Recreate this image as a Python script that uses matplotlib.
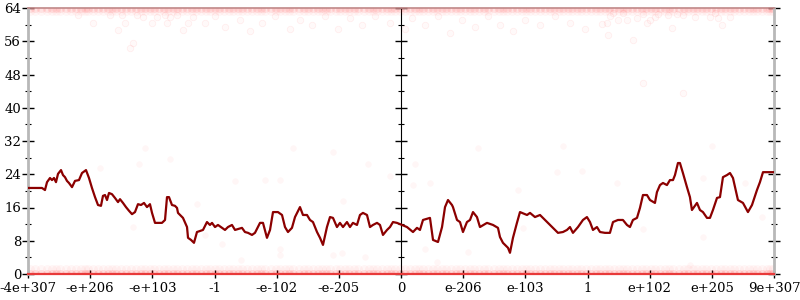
import matplotlib
matplotlib.use("Agg")
import matplotlib.pyplot as plt
from matplotlib.ticker import MultipleLocator, NullFormatter

# ---- data ----
tick_labels = ["-4e+307", "-e+206", "-e+103", "-1", "-e-102", "-e-205", "0",
               "e-206", "e-103", "1", "e+102", "e+205", "9e+307"]
y_ticks = [0, 8, 16, 24, 32, 40, 48, 56, 64]

line_x = [0.000, 0.225, 0.273, 0.306, 0.354, 0.386, 0.418, 0.450, 0.483, 0.531,
          0.563, 0.595, 0.627, 0.659, 0.708, 0.756, 0.820, 0.869, 0.933, 0.981,
          1.029, 1.078, 1.126, 1.174, 1.206, 1.239, 1.271, 1.303, 1.351, 1.399,
          1.448, 1.480, 1.528, 1.576, 1.625, 1.673, 1.721, 1.769, 1.818, 1.866,
          1.914, 1.962, 1.995, 2.043, 2.155, 2.204, 2.236, 2.268, 2.316, 2.364,
          2.397, 2.413, 2.493, 2.558, 2.574, 2.622, 2.670, 2.718, 2.815, 2.879,
          2.927, 2.960, 3.008, 3.056, 3.169, 3.217, 3.281, 3.330, 3.442, 3.490,
          3.539, 3.603, 3.651, 3.732, 3.780, 3.844, 3.893, 3.941, 4.021, 4.086,
          4.134, 4.182, 4.246, 4.295, 4.375, 4.423, 4.488, 4.536, 4.584, 4.649,
          4.697, 4.745, 4.809, 4.858, 4.906, 4.970, 5.018, 5.067, 5.131, 5.179,
          5.227, 5.292, 5.340, 5.388, 5.453, 5.501, 5.549, 5.614, 5.662, 5.710,
          5.775, 5.823, 5.871, 5.935, 6.016, 6.096, 6.193, 6.257, 6.305, 6.354,
          6.466, 6.515, 6.595, 6.660, 6.708, 6.756, 6.820, 6.836, 6.901, 6.949,
          6.997, 7.061, 7.110, 7.158, 7.222, 7.270, 7.383, 7.480, 7.560, 7.592,
          7.640, 7.721, 7.753, 7.801, 7.865, 7.914, 8.027, 8.075, 8.155, 8.236,
          8.316, 8.396, 8.445, 8.525, 8.605, 8.670, 8.718, 8.766, 8.847, 8.927,
          8.991, 9.040, 9.088, 9.152, 9.201, 9.281, 9.361, 9.410, 9.490, 9.570,
          9.635, 9.683, 9.731, 9.796, 9.844, 9.892, 9.957, 10.005, 10.085, 10.117,
          10.166, 10.214, 10.278, 10.326, 10.375, 10.407, 10.455, 10.487, 10.535, 10.600,
          10.648, 10.680, 10.761, 10.809, 10.857, 10.922, 10.970, 11.018, 11.083, 11.131,
          11.179, 11.243, 11.292, 11.340, 11.420, 11.501, 11.581, 11.646, 11.726, 11.774,
          11.823, 12.000]
line_y = [20.7, 20.7, 20.2, 22.1, 23.1, 22.6, 23.1, 22.1, 24.1, 25.0,
          23.8, 23.3, 22.4, 21.9, 20.9, 22.4, 22.6, 24.3, 25.0, 23.1,
          20.7, 18.5, 16.6, 16.4, 18.8, 19.0, 17.8, 19.5, 19.2, 18.3,
          17.3, 18.0, 17.1, 16.1, 15.2, 14.4, 14.9, 16.8, 16.6, 17.1,
          16.1, 16.8, 14.7, 12.3, 12.3, 13.0, 18.5, 18.5, 16.6, 16.4,
          15.9, 14.7, 13.5, 11.3, 8.7, 8.2, 7.5, 10.1, 10.6, 12.5,
          11.8, 12.3, 11.3, 11.8, 10.6, 11.3, 11.8, 10.6, 11.1, 10.1,
          9.9, 9.4, 9.9, 12.3, 12.3, 8.7, 10.6, 14.9, 14.9, 14.2,
          11.3, 10.1, 11.1, 13.7, 16.1, 14.2, 14.2, 13.0, 12.5, 10.1,
          8.7, 7.0, 11.3, 13.7, 13.5, 11.3, 12.3, 11.3, 12.5, 11.3,
          12.3, 11.8, 14.2, 14.7, 14.2, 11.3, 11.8, 12.3, 11.8, 9.4,
          10.6, 11.3, 12.5, 12.3, 11.8, 11.3, 10.1, 11.1, 10.6, 13.0,
          13.5, 8.2, 7.7, 11.3, 16.1, 17.8, 16.6, 16.1, 13.0, 12.5,
          10.1, 12.5, 13.0, 14.9, 13.7, 11.3, 12.3, 11.8, 11.1, 8.9,
          7.5, 6.3, 5.1, 8.7, 12.3, 14.9, 14.2, 14.7, 13.7, 14.2,
          13.0, 11.8, 11.1, 9.9, 10.1, 10.6, 11.3, 9.9, 11.3, 13.0,
          13.7, 12.5, 10.6, 11.3, 10.1, 9.9, 9.9, 12.5, 13.0, 13.0,
          11.8, 11.3, 13.0, 13.5, 15.9, 19.0, 19.0, 17.8, 17.1, 19.7,
          21.4, 21.9, 21.4, 22.6, 22.6, 23.8, 26.7, 26.7, 24.3, 20.9,
          18.5, 15.4, 17.1, 15.4, 14.9, 13.5, 13.5, 15.4, 18.3, 18.5,
          23.3, 23.8, 24.3, 23.1, 17.8, 17.1, 14.9, 16.6, 20.2, 22.1,
          24.5, 24.5]

# dense bands of sample points (error 0 and error 64)
band_a = [0.03, 0.21, 0.38, 0.52, 0.69, 0.85, 0.97, 1.12, 1.29, 1.41, 1.58, 1.74,
          1.88, 2.03, 2.19, 2.33, 2.47, 2.64, 2.79, 2.92, 3.08, 3.24, 3.37, 3.53,
          3.68, 3.82, 3.99, 4.13, 4.27, 4.44, 4.58, 4.73, 4.86, 5.02, 5.17, 5.31,
          5.48, 5.62, 5.77, 5.91, 6.06, 6.22, 6.35, 6.51, 6.66, 6.80, 6.95, 7.11,
          7.26, 7.40, 7.57, 7.71, 7.86, 8.01, 8.15, 8.32, 8.46, 8.61, 8.75, 8.90,
          9.06, 9.20, 9.35, 9.51, 9.64, 9.80, 9.94, 10.09, 10.25, 10.38, 10.55,
          10.69, 10.84, 10.98, 11.14, 11.29, 11.43, 11.60, 11.73, 11.88, 11.98]
band_b = [0.11, 0.30, 0.45, 0.61, 0.77, 0.91, 1.05, 1.20, 1.35, 1.50, 1.66, 1.81,
          1.96, 2.11, 2.26, 2.40, 2.56, 2.71, 2.86, 3.00, 3.16, 3.30, 3.45, 3.61,
          3.75, 3.91, 4.06, 4.20, 4.36, 4.51, 4.66, 4.80, 4.95, 5.10, 5.24, 5.40,
          5.55, 5.70, 5.84, 5.99, 6.14, 6.29, 6.43, 6.58, 6.73, 6.88, 7.03, 7.18,
          7.33, 7.49, 7.64, 7.79, 7.94, 8.08, 8.24, 8.39, 8.54, 8.68, 8.83, 8.98,
          9.13, 9.28, 9.43, 9.57, 9.72, 9.87, 10.02, 10.17, 10.31, 10.47, 10.62,
          10.76, 10.91, 11.06, 11.21, 11.36, 11.51, 11.66, 11.81, 11.93]

# scattered sample points near the top
top_x = [0.80, 1.05, 1.32, 1.45, 1.51, 1.56, 1.64, 1.69, 1.75, 1.85, 1.99, 2.07,
         2.20, 2.24, 2.28, 2.40, 2.49, 2.57, 2.65, 2.85, 3.00, 3.17, 3.41, 3.57,
         3.76, 3.97, 4.21, 4.38, 4.57, 4.78, 4.99, 5.18, 5.37, 5.58, 5.82,
         6.06, 6.18, 6.39, 6.60, 6.79, 6.98, 7.19, 7.40, 7.59, 7.80, 7.99, 8.24,
         8.48, 8.72, 8.96, 9.23, 9.31, 9.33, 9.36, 9.41, 9.49, 9.57, 9.63, 9.73,
         9.80, 9.89, 9.96, 10.01, 10.09, 10.13, 10.29, 10.36, 10.44, 10.54, 10.73,
         10.97, 11.05, 11.10, 11.16, 11.29, 9.89, 10.54]
top_y = [62.3, 60.4, 62.3, 58.7, 62.3, 60.4, 54.4, 55.6, 62.3, 61.8, 60.4, 61.8,
         62.3, 60.4, 61.8, 62.3, 58.7, 60.4, 61.8, 60.5, 62.0, 59.5, 61.0, 58.5,
         60.5, 62.0, 59.0, 61.0, 60.0, 62.0, 59.0, 61.5, 60.0, 62.0, 60.5,
         59.0, 61.5, 60.0, 62.0, 58.0, 61.0, 59.5, 62.0, 60.0, 58.5, 61.0, 59.8,
         62.0, 60.5, 59.0, 60.2, 60.4, 57.5, 62.0, 62.8, 61.1, 62.8, 61.1, 56.3,
         61.5, 62.6, 60.4, 61.1, 61.8, 62.6, 62.3, 59.2, 62.6, 62.3, 61.8,
         61.8, 62.8, 61.5, 59.9, 61.8, 46.0, 43.5]

# scattered sample points elsewhere
mid_x = [1.88, 1.16, 1.79, 2.28, 2.72, 1.69, 3.33, 3.81, 4.05, 4.26, 4.91, 5.07,
         5.47, 5.82, 2.85, 4.05, 7.24, 8.61, 6.22, 6.19, 6.47, 7.88, 8.51, 8.91,
         9.47, 10.86, 11.53, 11.00, 9.89, 10.86, 6.39, 7.08, 11.81, 7.96,
         3.43, 3.12, 4.05, 4.91, 5.05, 5.42, 6.58, 10.65]
mid_y = [30.3, 25.5, 26.5, 27.7, 16.8, 11.3, 22.4, 22.6, 22.6, 30.3, 29.4, 17.6,
         26.5, 23.6, 9.4, 6.0, 30.3, 30.8, 26.5, 21.4, 21.9, 20.2, 24.5, 24.8,
         21.9, 23.1, 21.9, 30.8, 10.8, 8.9, 6.0, 5.3, 13.7, 11.1,
         3.4, 7.2, 4.6, 4.6, 5.0, 4.1, 2.9, 2.2]

# ---- figure ----
fig = plt.figure(figsize=(8, 3), dpi=100)
ax = fig.add_axes([28 / 800, 26 / 300, 746 / 800, 266 / 300])

red = "#ff0000"
ms = 22
bs = 42
# bands
ax.scatter(band_a, [0] * len(band_a), s=bs, color=red, alpha=0.10, lw=0, zorder=2)
ax.scatter(band_b, [0] * len(band_b), s=bs, color=red, alpha=0.10, lw=0, zorder=2)
ax.scatter(band_a, [1.1] * len(band_a), s=bs, color=red, alpha=0.035, lw=0, zorder=2)
ax.scatter(band_b, [1.2] * len(band_b), s=bs, color=red, alpha=0.035, lw=0, zorder=2)
ax.scatter(band_a, [64] * len(band_a), s=bs, color=red, alpha=0.08, lw=0, zorder=2)
ax.scatter(band_b, [64] * len(band_b), s=bs, color=red, alpha=0.08, lw=0, zorder=2)
ax.scatter(band_a, [63.2] * len(band_a), s=bs, color=red, alpha=0.035, lw=0, zorder=2)
ax.scatter(band_b, [63.3] * len(band_b), s=bs, color=red, alpha=0.035, lw=0, zorder=2)
# scattered
ax.scatter(top_x, top_y, s=ms, facecolor=(1, 0, 0, 0.025), edgecolor=(1, 0, 0, 0.06), lw=0.6, zorder=2)
ax.scatter(mid_x, mid_y, s=ms, color=red, alpha=0.035, lw=0, zorder=2)

# main line
ax.plot(line_x, line_y, color="#8b0000", lw=1.6, zorder=4, solid_joinstyle="round")

ax.set_xlim(0, 12)
ax.set_ylim(0, 64)

ax.set_xticks(range(len(tick_labels)))
ax.set_xticklabels(tick_labels)
ax.set_yticks(y_ticks)
ax.yaxis.set_minor_locator(MultipleLocator(4))

axis_gray = "#b8b8b8"
for s in ["left", "right"]:
    ax.spines[s].set_color(axis_gray)
    ax.spines[s].set_linewidth(2)
ax.spines["bottom"].set_color("#e83a3a")
ax.spines["bottom"].set_linewidth(1.6)
ax.spines["top"].set_color("#c08888")
ax.spines["top"].set_linewidth(1.2)

ax.tick_params(axis="y", which="major", direction="inout", length=8, width=1,
               color="black", right=True, labelright=False, pad=1)
ax.tick_params(axis="y", which="minor", direction="inout", length=4.5, width=0.8,
               color="black", right=True)
ax.tick_params(axis="x", which="major", direction="inout", length=6, width=1,
               color="black", pad=3)
for lab in ax.get_xticklabels() + ax.get_yticklabels():
    lab.set_fontfamily("DejaVu Serif")
    lab.set_fontsize(9.5)

# middle axis
mid = ax.secondary_yaxis(0.5)
mid.spines["left"].set_color(axis_gray)
mid.spines["left"].set_linewidth(2)
mid.set_yticks(y_ticks)
mid.yaxis.set_major_formatter(NullFormatter())
mid.yaxis.set_minor_locator(MultipleLocator(4))
mid.tick_params(which="major", direction="inout", length=8, width=1, color="black")
mid.tick_params(which="minor", direction="inout", length=4.5, width=0.8, color="black")

fig.savefig("out.png", dpi=100)
